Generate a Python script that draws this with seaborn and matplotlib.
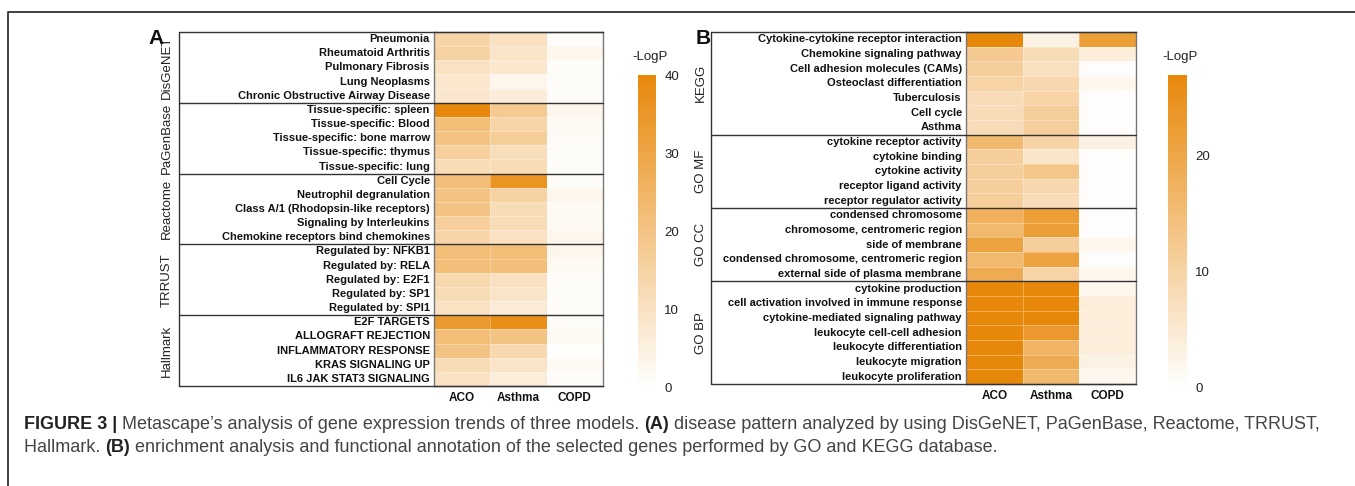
import numpy as np
import pandas as pd
import matplotlib
matplotlib.use("Agg")
import matplotlib.pyplot as plt
import seaborn as sns
from matplotlib.colors import LinearSegmentedColormap
from matplotlib.lines import Line2D
from matplotlib.transforms import blended_transform_factory

sns.set_theme(style="white")
plt.rcParams["font.family"] = ["Liberation Sans", "DejaVu Sans"]

# ---------------- data ----------------
models = ["ACO", "Asthma", "COPD"]

groups_a = ["DisGeNET", "PaGenBase", "Reactome", "TRRUST", "Hallmark"]
sizes_a = [5, 5, 5, 5, 5]
terms_a = [
    "Pneumonia", "Rheumatoid Arthritis", "Pulmonary Fibrosis", "Lung Neoplasms",
    "Chronic Obstructive Airway Disease",
    "Tissue-specific: spleen", "Tissue-specific: Blood", "Tissue-specific: bone marrow",
    "Tissue-specific: thymus", "Tissue-specific: lung",
    "Cell Cycle", "Neutrophil degranulation", "Class A/1 (Rhodopsin-like receptors)",
    "Signaling by Interleukins", "Chemokine receptors bind chemokines",
    "Regulated by: NFKB1", "Regulated by: RELA", "Regulated by: E2F1",
    "Regulated by: SP1", "Regulated by: SPI1",
    "E2F TARGETS", "ALLOGRAFT REJECTION", "INFLAMMATORY RESPONSE",
    "KRAS SIGNALING UP", "IL6 JAK STAT3 SIGNALING",
]
aco_a = [14, 15, 10, 8, 8,
         40, 22, 20, 16, 12,
         22, 20, 20, 16, 14,
         22, 22, 13, 12, 10,
         34, 22, 20, 12, 10]
asthma_a = [10, 9, 8, 3, 6,
            18, 14, 17, 11, 12,
            36, 15, 12, 12, 10,
            22, 22, 10, 9, 7,
            38, 20, 13, 9, 6]
copd_a = [1, 3, 1, 1, 1,
          3, 2, 1.5, 1, 1,
          1, 3, 2, 2, 3,
          3, 2, 1, 1, 1,
          1, 2, 0.5, 2, 1]

groups_b = ["KEGG", "GO MF", "GO CC", "GO BP"]
sizes_b = [7, 5, 5, 7]
terms_b = [
    "Cytokine-cytokine receptor interaction", "Chemokine signaling pathway",
    "Cell adhesion molecules (CAMs)", "Osteoclast differentiation", "Tuberculosis",
    "Cell cycle", "Asthma",
    "cytokine receptor activity", "cytokine binding", "cytokine activity",
    "receptor ligand activity", "receptor regulator activity",
    "condensed chromosome", "chromosome, centromeric region", "side of membrane",
    "condensed chromosome, centromeric region", "external side of plasma membrane",
    "cytokine production", "cell activation involved in immune response",
    "cytokine-mediated signaling pathway", "leukocyte cell-cell adhesion",
    "leukocyte differentiation", "leukocyte migration", "leukocyte proliferation",
]
aco_b = [27, 12, 11, 10, 8, 8, 8,
         16, 11, 11, 11, 11,
         18, 16, 21, 16, 19,
         27, 27, 27, 27, 27, 27, 27]
asthma_b = [3, 8, 7, 9, 10, 11, 11,
            10, 6, 13, 9, 8,
            22, 22, 11, 21, 10,
            27, 27, 27, 23, 17, 19, 16]
copd_b = [22, 4, 0.5, 2, 0.5, 0.5, 0.5,
          3, 0.5, 0.5, 0.5, 0.5,
          0.5, 0.5, 2, 0.5, 2,
          2, 4, 4, 4, 4, 3, 2]

ticks_a = [0, 10, 20, 30, 40]
ticks_b = [0, 10, 20]
vmax_a = 40
vmax_b = 27

caption_line1 = [("FIGURE 3 |", "bold"),
                 (" Metascape\u2019s analysis of gene expression trends of three models. ", "normal"),
                 ("(A)", "bold"),
                 (" disease pattern analyzed by using DisGeNET, PaGenBase, Reactome, TRRUST,", "normal")]
caption_line2 = [("Hallmark. ", "normal"),
                 ("(B)", "bold"),
                 (" enrichment analysis and functional annotation of the selected genes performed by GO and KEGG database.", "normal")]

# ---------------- figure ----------------
W, H = 1355, 486
fig = plt.figure(figsize=(W / 100, H / 100), dpi=100)


def fx(px):
    return px / W


def fy(py):
    return 1 - py / H


def box(l, t, r, b):
    return [fx(l), fy(b), fx(r) - fx(l), fy(t) - fy(b)]


cmap = LinearSegmentedColormap.from_list("wo", ["#ffffff", "#e8880a"])

# outer frame (top and left edges visible)
fig.add_artist(Line2D([fx(8), fx(8), 1.0], [0.0, fy(12), fy(12)],
                      transform=fig.transFigure, color="#333333", lw=1.3))


def panel(df, groups, sizes, vmax, ticks, axbox, cbox, box_left_px, label_x_px,
          letter, letter_xy, cblabel_xy):
    ax = fig.add_axes(box(*axbox))
    cax = fig.add_axes(box(*cbox))
    sns.heatmap(df, ax=ax, cbar_ax=cax, cmap=cmap, vmin=0, vmax=vmax,
                linewidths=0.4, linecolor=(1, 1, 1, 0.3),
                cbar_kws={"ticks": ticks})
    ax.set_xlabel("")
    ax.set_ylabel("")
    ax.tick_params(axis="both", length=0)
    ax.tick_params(axis="y", pad=3)
    ax.tick_params(axis="x", pad=4)
    ax.set_yticks(np.arange(len(df)) + 0.5)
    ax.set_yticklabels(df.index, fontsize=8, fontweight="bold", color="#111111", rotation=0)
    ax.set_xticklabels(df.columns, fontsize=8.5, fontweight="bold", color="#111111", rotation=0)
    for s in ax.spines.values():
        s.set_visible(True)
        s.set_color("#777777")
        s.set_linewidth(1.0)

    cbar = ax.collections[0].colorbar
    cbar.outline.set_visible(False)
    cbar.ax.tick_params(length=0, labelsize=9.5, pad=6, colors="#222222")
    fig.text(fx(cblabel_xy[0]), fy(cblabel_xy[1]), "-LogP", fontsize=9.5,
             color="#222222", ha="left", va="center")

    tr = blended_transform_factory(fig.transFigure, ax.transData)
    x0 = fx(box_left_px)
    x1 = ax.get_position().x1
    bounds = np.cumsum([0] + sizes)
    for b in bounds:
        fig.add_artist(Line2D([x0, x1], [b, b], transform=tr, color="#333333", lw=1.0))
    fig.add_artist(Line2D([x0, x0], [0, bounds[-1]], transform=tr, color="#333333", lw=1.0))
    for g, s0, s1 in zip(groups, bounds[:-1], bounds[1:]):
        fig.text(fx(label_x_px), (s0 + s1) / 2, g, transform=tr, rotation=90,
                 ha="center", va="center", fontsize=9.5, color="#222222")
    fig.text(fx(letter_xy[0]), fy(letter_xy[1]), letter, fontsize=15,
             fontweight="bold", ha="center", va="center", color="#111111")
    return ax


df_a = pd.DataFrame({"ACO": aco_a, "Asthma": asthma_a, "COPD": copd_a}, index=terms_a)[models]
df_b = pd.DataFrame({"ACO": aco_b, "Asthma": asthma_b, "COPD": copd_b}, index=terms_b)[models]

panel(df_a, groups_a, sizes_a, vmax_a, ticks_a,
      (434, 32, 603, 386), (638, 75, 656, 387), 179, 167, "A", (156, 38), (632, 57))
panel(df_b, groups_b, sizes_b, vmax_b, ticks_b,
      (966, 32, 1136, 384), (1168, 75, 1187, 387), 711, 701, "B", (703, 38), (1162, 57))

# caption with mixed weights
renderer = fig.canvas.get_renderer()


def caption_line(pieces, x_px, y_px):
    x = fx(x_px)
    for txt, wt in pieces:
        t = fig.text(x, fy(y_px), txt, fontsize=13, fontweight=wt,
                     color="#222222" if wt == "bold" else "#444444",
                     ha="left", va="center")
        bb = t.get_window_extent(renderer)
        x = bb.x1 / W


caption_line(caption_line1, 24, 424)
caption_line(caption_line2, 24, 447)

fig.savefig("out.png", dpi=100)
